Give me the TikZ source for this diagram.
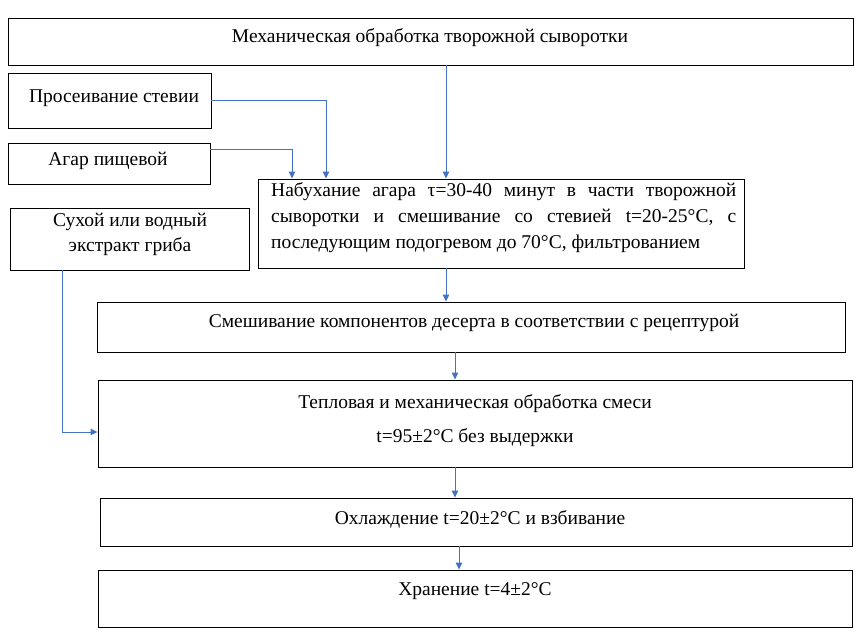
\documentclass[tikz,border=0pt]{standalone}
\usepackage{fontspec}
\setmainfont{Liberation Serif}
\usetikzlibrary{arrows.meta}
\definecolor{arrblue}{RGB}{68,114,196}
\tikzset{
  box/.style={draw=black, line width=0.9pt, rectangle, inner sep=0pt},
  txt/.style={inner sep=0pt, font=\fontsize{19.5}{22}\selectfont},
  arr/.style={draw=arrblue, line width=0.9pt, -{Triangle[length=7pt,width=6.5pt]}}
}
\newcommand{\mkbox}[5]{\node[box, minimum width={(#4-#2)*1pt}, minimum height={(#5-#3)*1pt}] (#1) at ({(#2+#4)/2},{(#3+#5)/2}) {};}
\begin{document}
\begin{tikzpicture}[x=1pt,y=-1pt]
\useasboundingbox (0,0) rectangle (860,637);
\mkbox{b1}{8}{18}{853}{65}
\mkbox{pros}{8}{73}{211}{128}
\mkbox{agar}{8}{143}{210}{184}
\mkbox{dry}{10}{208}{249}{270}
\mkbox{nab}{258}{179}{744}{268}
\mkbox{mix}{97}{302}{845}{352}
\mkbox{heat}{98}{380}{852}{467}
\mkbox{cool}{100}{498}{852}{546}
\mkbox{store}{98}{570}{852}{627}

\node[txt] (t1) at (430,38) {Механическая обработка творожной сыворотки};
\node[txt] (t2) at (114,98) {Просеивание стевии};
\node[txt] (t3) at (108,161) {Агар пищевой};
\node[txt] (t4a) at (130,222) {Сухой или водный};
\node[txt] (t4b) at (130,247) {экстракт гриба};
\node[txt, anchor=west] (t5a) at (271,192) {\hbox to 465pt{Набухание\hfill агара\hfill τ=30-40\hfill минут\hfill в\hfill части\hfill творожной}};
\node[txt, anchor=west] (t5b) at (271,218) {\hbox to 465pt{сыворотки\hfill и\hfill смешивание\hfill со\hfill стевией\hfill t=20-25°C,\hfill с}};
\node[txt, anchor=west] (t5c) at (271,244) {последующим подогревом до 70°C, фильтрованием};
\node[txt] (t6) at (474,323) {Смешивание компонентов десерта в соответствии с рецептурой};
\node[txt] (t7a) at (475,404) {Тепловая и механическая обработка смеси};
\node[txt] (t7b) at (475,438) {t=95±2°C без выдержки};
\node[txt] (t8) at (480,519) {Охлаждение t=20±2°C и взбивание};
\node[txt] (t9) at (475,591) {Хранение t=4±2°C};

\coordinate (x446) at (446,0);
\coordinate (x326) at (326,0);
\coordinate (x291) at (292,0);
\coordinate (x62) at (62,0);
\coordinate (x455) at (455,0);
\coordinate (x459) at (459,0);
\coordinate (y99) at (0,100);
\coordinate (y149) at (0,149);
\coordinate (y432) at (0,432);

\draw[arr] (b1.south -| x446) -- (nab.north -| x446);
\draw[arr] (pros.east |- y99) -| (nab.north -| x326);
\draw[arr] (agar.east |- y149) -| (nab.north -| x291);
\draw[arr] (dry.south -| x62) |- (heat.west |- y432);
\draw[arr] (nab.south -| x446) -- (mix.north -| x446);
\draw[arr] (mix.south -| x455) -- (heat.north -| x455);
\draw[arr] (heat.south -| x455) -- (cool.north -| x455);
\draw[arr] (cool.south -| x459) -- (store.north -| x459);
\end{tikzpicture}
\end{document}
